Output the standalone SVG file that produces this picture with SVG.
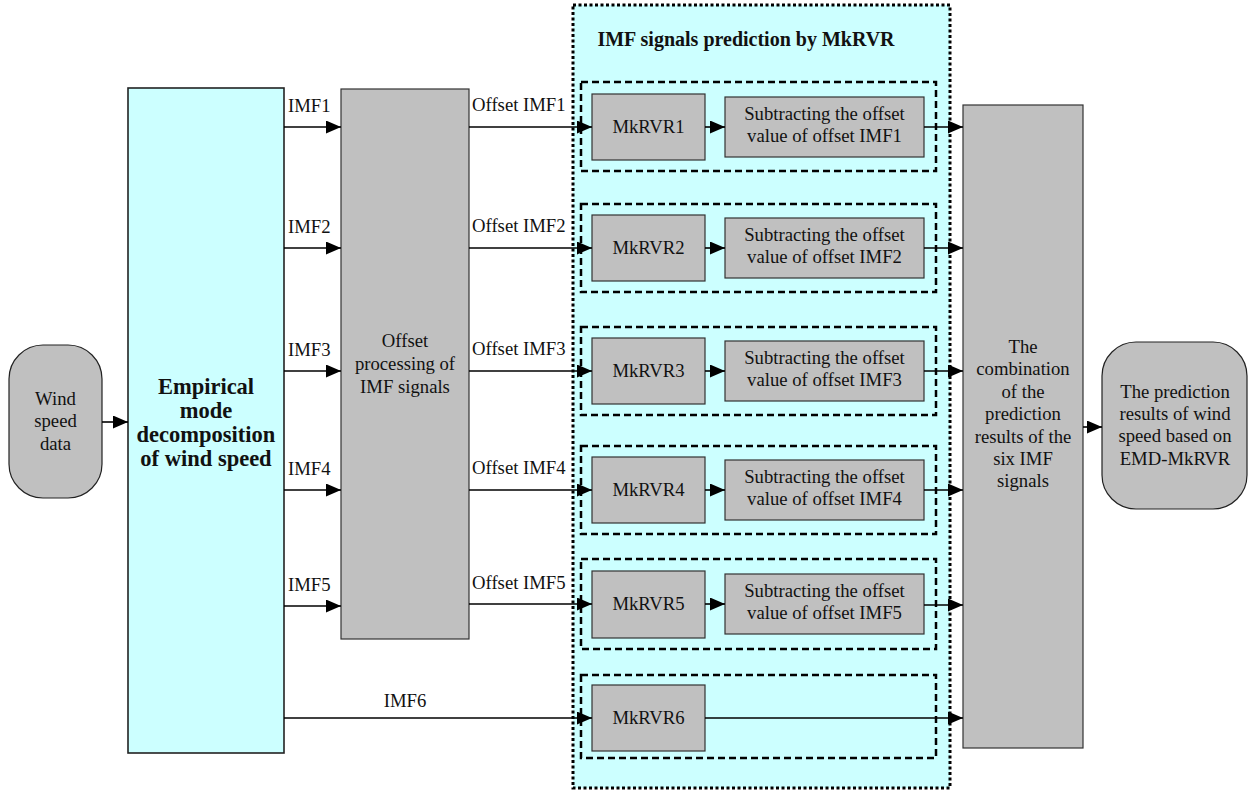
<svg xmlns="http://www.w3.org/2000/svg" width="1249" height="790" viewBox="0 0 1249 790">
<style>
text{font-family:"Liberation Serif","Times New Roman",serif;font-size:18.7px;fill:#111;}
.c{text-anchor:middle;}
.b{font-weight:bold;}
.bt{font-weight:bold;font-size:22.5px;}
.gray{fill:#C0C0C0;stroke:#333;stroke-width:1.2;}
.cyan{fill:#CCFFFF;stroke:#222;stroke-width:1.6;}
.outer{fill:#CCFFFF;stroke:#000;stroke-width:3;stroke-dasharray:3 2.5;}
.inner{fill:none;stroke:#000;stroke-width:2.5;stroke-dasharray:7 4;}
.conn{fill:none;stroke:#000;stroke-width:1.6;marker-end:url(#ah);}
</style>
<defs>
<marker id="ah" viewBox="0 0 15 13" refX="15" refY="6.5" markerWidth="15" markerHeight="13" markerUnits="userSpaceOnUse" orient="auto">
<path d="M0,0 L15,6.5 L0,13 Z" fill="#000"/>
</marker>
</defs>
<rect width="1249" height="790" fill="#fff"/>

<g id="container">
<rect class="outer" x="573" y="5" width="377" height="783"/>
<text class="c b" x="746" y="46" style="font-size:20px">IMF signals prediction by MkRVR</text>
</g>

<g id="groups">
<rect class="inner" x="581" y="82" width="355" height="89"/>
<rect class="inner" x="581" y="204" width="355" height="88"/>
<rect class="inner" x="581" y="327" width="355" height="88"/>
<rect class="inner" x="581" y="446" width="355" height="88"/>
<rect class="inner" x="581" y="559" width="355" height="90"/>
<rect class="inner" x="581" y="675" width="355" height="83"/>
</g>

<g id="wind">
<rect class="gray" x="9" y="345" width="93" height="153" rx="34" ry="34" style="stroke:#222"/>
<text class="c" x="55.5" y="405">Wind</text>
<text class="c" x="55.5" y="427">speed</text>
<text class="c" x="55.5" y="450">data</text>
</g>

<g id="emd">
<rect class="cyan" x="128" y="88" width="156" height="665"/>
<text class="c bt" x="206" y="394">Empirical</text>
<text class="c bt" x="206" y="418">mode</text>
<text class="c bt" x="206" y="442">decomposition</text>
<text class="c bt" x="206" y="466">of wind speed</text>
</g>

<g id="offset">
<rect class="gray" x="341" y="89" width="128" height="550"/>
<text class="c" x="405" y="347">Offset</text>
<text class="c" x="405" y="370">processing of</text>
<text class="c" x="405" y="393">IMF signals</text>
</g>

<g id="mk1"><rect class="gray" x="592" y="94" width="113" height="66"/><text class="c" x="648.5" y="133">MkRVR1</text></g>
<g id="sub1"><rect class="gray" x="725" y="97" width="199" height="60"/><text class="c" x="824.5" y="120">Subtracting the offset</text><text class="c" x="824.5" y="142">value of offset IMF1</text></g>

<g id="mk2"><rect class="gray" x="592" y="215" width="113" height="66"/><text class="c" x="648.5" y="254">MkRVR2</text></g>
<g id="sub2"><rect class="gray" x="725" y="218" width="199" height="60"/><text class="c" x="824.5" y="241">Subtracting the offset</text><text class="c" x="824.5" y="263">value of offset IMF2</text></g>

<g id="mk3"><rect class="gray" x="592" y="338" width="113" height="66"/><text class="c" x="648.5" y="377">MkRVR3</text></g>
<g id="sub3"><rect class="gray" x="725" y="341" width="199" height="60"/><text class="c" x="824.5" y="364">Subtracting the offset</text><text class="c" x="824.5" y="386">value of offset IMF3</text></g>

<g id="mk4"><rect class="gray" x="592" y="457" width="113" height="66"/><text class="c" x="648.5" y="496">MkRVR4</text></g>
<g id="sub4"><rect class="gray" x="725" y="460" width="199" height="60"/><text class="c" x="824.5" y="483">Subtracting the offset</text><text class="c" x="824.5" y="505">value of offset IMF4</text></g>

<g id="mk5"><rect class="gray" x="592" y="571" width="113" height="67"/><text class="c" x="648.5" y="610">MkRVR5</text></g>
<g id="sub5"><rect class="gray" x="725" y="574" width="199" height="60"/><text class="c" x="824.5" y="597">Subtracting the offset</text><text class="c" x="824.5" y="619">value of offset IMF5</text></g>

<g id="mk6"><rect class="gray" x="592" y="685" width="113" height="66"/><text class="c" x="648.5" y="724">MkRVR6</text></g>

<g id="combination">
<rect class="gray" x="963" y="105" width="120" height="643"/>
<text class="c" x="1023" y="353">The</text>
<text class="c" x="1023" y="375">combination</text>
<text class="c" x="1023" y="398">of the</text>
<text class="c" x="1023" y="420">prediction</text>
<text class="c" x="1023" y="443">results of the</text>
<text class="c" x="1023" y="465">six IMF</text>
<text class="c" x="1023" y="487">signals</text>
</g>

<g id="result">
<rect class="gray" x="1102" y="342" width="145" height="167" rx="34" ry="34" style="stroke:#222"/>
<text class="c" x="1175" y="398">The prediction</text>
<text class="c" x="1175" y="420">results of wind</text>
<text class="c" x="1175" y="442">speed based on</text>
<text class="c" x="1175" y="465">EMD-MkRVR</text>
</g>

<g id="connectors">
<path class="conn" d="M102,422 H128"/>
<path class="conn" d="M284,127 H341"/>
<path class="conn" d="M284,248 H341"/>
<path class="conn" d="M284,371 H341"/>
<path class="conn" d="M284,490 H341"/>
<path class="conn" d="M284,606 H341"/>
<path class="conn" d="M284,718 H592"/>
<path class="conn" d="M469,127 H592"/>
<path class="conn" d="M469,248 H592"/>
<path class="conn" d="M469,371 H592"/>
<path class="conn" d="M469,490 H592"/>
<path class="conn" d="M469,604 H592"/>
<path class="conn" d="M705,127 H725"/>
<path class="conn" d="M705,248 H725"/>
<path class="conn" d="M705,371 H725"/>
<path class="conn" d="M705,490 H725"/>
<path class="conn" d="M705,604 H725"/>
<path class="conn" d="M924,127 H963"/>
<path class="conn" d="M924,248 H963"/>
<path class="conn" d="M924,371 H963"/>
<path class="conn" d="M924,490 H963"/>
<path class="conn" d="M924,605 H963"/>
<path class="conn" d="M705,718 H963"/>
<path class="conn" d="M1083,427 H1102"/>
<text x="288" y="112">IMF1</text>
<text x="288" y="233">IMF2</text>
<text x="288" y="356">IMF3</text>
<text x="288" y="475">IMF4</text>
<text x="288" y="591">IMF5</text>
<text class="c" x="405" y="707">IMF6</text>
<text x="472" y="111">Offset IMF1</text>
<text x="472" y="232">Offset IMF2</text>
<text x="472" y="355">Offset IMF3</text>
<text x="472" y="474">Offset IMF4</text>
<text x="472" y="589">Offset IMF5</text>
</g>
</svg>
